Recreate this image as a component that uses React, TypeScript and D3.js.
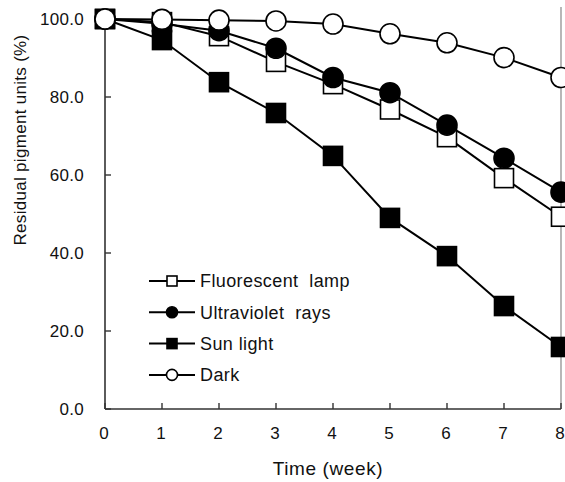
import * as d3 from "d3";

const weeks = [0, 1, 2, 3, 4, 5, 6, 7, 8];
const fluorescent = [100, 99.2, 95.6, 89, 83.3, 76.8, 69.7, 59.2, 49.3];
const ultraviolet = [100, 98.8, 97, 92.5, 85, 81.1, 72.8, 64.3, 55.6];
const sunlight = [100, 94.6, 83.8, 75.9, 64.9, 49, 39.2, 26.4, 15.9];
const dark = [100, 99.9, 99.7, 99.5, 98.7, 96.2, 93.9, 90.1, 85];
const yTicks = [0, 20, 40, 60, 80, 100];
const legendLabels = ["Fluorescent  lamp", "Ultraviolet  rays", "Sun light", "Dark"];

type Marker = "openSquare" | "filledSquare" | "openCircle" | "filledCircle";

const series: { name: string; values: number[]; marker: Marker }[] = [
  { name: legendLabels[0], values: fluorescent, marker: "openSquare" },
  { name: legendLabels[2], values: sunlight, marker: "filledSquare" },
  { name: legendLabels[1], values: ultraviolet, marker: "filledCircle" },
  { name: legendLabels[3], values: dark, marker: "openCircle" },
];
const legendMarkers: Marker[] = ["openSquare", "filledCircle", "filledSquare", "openCircle"];

const width = 565;
const height = 482;
const font = "'Liberation Sans', Arial, sans-serif";

function Symbol({ kind, cx, cy, size }: { kind: Marker; cx: number; cy: number; size: number }) {
  const fill = kind.startsWith("filled") ? "#000" : "#fff";
  if (kind.endsWith("Square")) {
    return (
      <rect x={cx - size / 2} y={cy - size / 2} width={size} height={size}
        fill={fill} stroke="#000" strokeWidth={1.6} />
    );
  }
  return <circle cx={cx} cy={cy} r={size / 2} fill={fill} stroke="#000" strokeWidth={1.6} />;
}

export default function App() {
  const x = d3.scaleLinear([0, 8], [105, 561]);
  const y = d3.scaleLinear([0, 100], [409, 19]);
  const line = d3.line<number>((d, i) => x(weeks[i]), (d) => y(d));

  return (
    <svg width={width} height={height} style={{ position: "absolute", left: 0, top: 0, background: "#fff" }}
      fontFamily={font}>
      {/* right frame line */}
      <line x1={x(8)} x2={x(8)} y1={7} y2={y(0)} stroke="#888" strokeWidth={1.2} />

      {/* axes */}
      <line x1={x(0)} x2={x(0)} y1={y(100)} y2={y(0)} stroke="#333" strokeWidth={1.6} />
      <line x1={x(0)} x2={x(8)} y1={y(0)} y2={y(0)} stroke="#333" strokeWidth={1.6} />
      {yTicks.map((t) => (
        <g key={t}>
          <line x1={x(0)} x2={x(0) + 6} y1={y(t)} y2={y(t)} stroke="#333" strokeWidth={1.4} />
          <text x={84} y={y(t)} dy="0.35em" textAnchor="end" fontSize={17} letterSpacing={0.3} fill="#111">
            {d3.format(".1f")(t)}
          </text>
        </g>
      ))}
      {weeks.map((w) => (
        <g key={w}>
          <line x1={x(w)} x2={x(w)} y1={y(0)} y2={y(0) - 6} stroke="#333" strokeWidth={1.4} />
          <text x={x(w) - 1} y={439} textAnchor="middle" fontSize={17} fill="#111">{w}</text>
        </g>
      ))}

      <text x={328} y={475} textAnchor="middle" fontSize={19} letterSpacing={0.6} fill="#111">Time (week)</text>
      <text transform="translate(26,140) rotate(-90)" textAnchor="middle" fontSize={17} letterSpacing={0.3} fill="#111">
        Residual pigment units (%)
      </text>

      {/* series */}
      {series.map((s) => (
        <g key={s.name}>
          <path d={line(s.values) ?? ""} fill="none" stroke="#000" strokeWidth={2} />
          {s.values.map((v, i) => (
            <Symbol key={i} kind={s.marker} cx={x(weeks[i])} cy={y(v)} size={s.marker.endsWith("Square") ? 19 : 20} />
          ))}
        </g>
      ))}

      {/* legend */}
      {legendLabels.map((label, i) => {
        const ly = 281 + i * 31.3;
        return (
          <g key={label}>
            <line x1={149} x2={195} y1={ly} y2={ly} stroke="#000" strokeWidth={2} />
            <Symbol kind={legendMarkers[i]} cx={172} cy={ly} size={legendMarkers[i].endsWith("Square") ? 10 : 11} />
            <text x={200} y={ly} dy="0.35em" fontSize={18} letterSpacing={0.4} fill="#111"
              style={{ whiteSpace: "pre" }}>{label}</text>
          </g>
        );
      })}
    </svg>
  );
}
